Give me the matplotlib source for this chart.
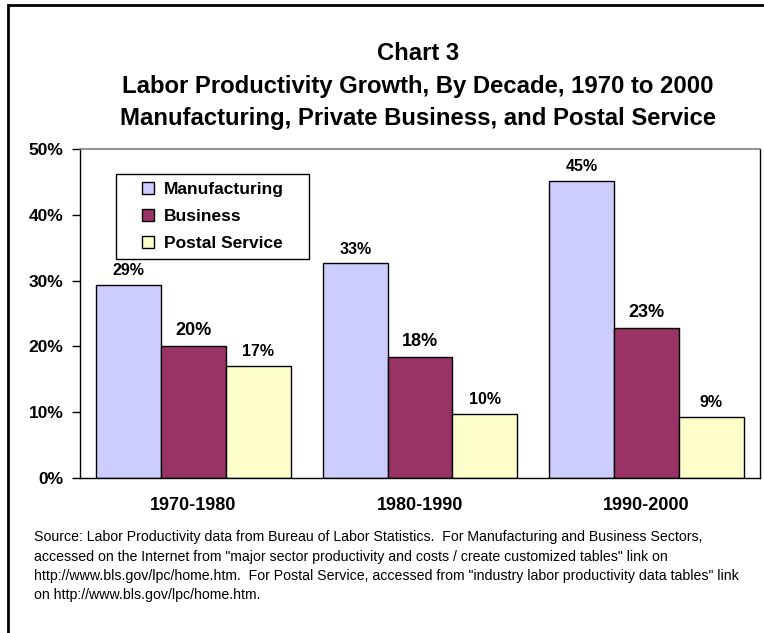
import numpy as np
import matplotlib
matplotlib.use("Agg")
import matplotlib.pyplot as plt
from matplotlib.patches import Rectangle
from matplotlib.lines import Line2D
from matplotlib.ticker import FuncFormatter

plt.rcParams['font.family'] = ['Liberation Sans', 'DejaVu Sans']

decades = ["1970-1980", "1980-1990", "1990-2000"]
series = ["Manufacturing", "Business", "Postal Service"]
manufacturing = [29.3, 32.6, 45.2]
business = [20.0, 18.4, 22.8]
postal = [17.0, 9.8, 9.3]
labels_manufacturing = ["29%", "33%", "45%"]
labels_business = ["20%", "18%", "23%"]
labels_postal = ["17%", "10%", "9%"]
y_ticks = [0, 10, 20, 30, 40, 50]

title_lines = ["Chart 3",
               "Labor Productivity Growth, By Decade, 1970 to 2000",
               "Manufacturing, Private Business, and Postal Service"]
source_lines = [
    "Source: Labor Productivity data from Bureau of Labor Statistics.  For Manufacturing and Business Sectors,",
    "accessed on the Internet from \"major sector productivity and costs / create customized tables\" link on",
    "http://www.bls.gov/lpc/home.htm.  For Postal Service, accessed from \"industry labor productivity data tables\" link",
    "on http://www.bls.gov/lpc/home.htm.",
]

colors = ["#CCCCFF", "#993366", "#FFFFCC"]
W, H = 764, 633

fig = plt.figure(figsize=(W / 100, H / 100), dpi=100)

# outer frame, cut off at the right and bottom like the source
fig.patches.append(Rectangle((8 / W, -0.2), 1.5, 1.2 - 5 / H, transform=fig.transFigure,
                             fill=False, edgecolor="black", linewidth=2, clip_on=False))

# plot area (pixels): x 80..760, y 149..478 from the top
ax = fig.add_axes([80 / W, 1 - 478 / H, (760 - 80) / W, (478 - 149) / H])

x = np.arange(len(decades))
bw = 0.286
all_vals = [manufacturing, business, postal]
all_labels = [labels_manufacturing, labels_business, labels_postal]
label_sizes = [11.5, 13, 11.5]
for i, (vals, labs) in enumerate(zip(all_vals, all_labels)):
    pos = x + (i - 1) * bw
    ax.bar(pos, vals, width=bw, color=colors[i], edgecolor="black", linewidth=1, zorder=2)
    for p, v, t in zip(pos, vals, labs):
        ax.annotate(t, (p, v), xytext=(0, 5), textcoords="offset points",
                    ha="center", va="bottom", fontsize=label_sizes[i], fontweight="bold")

ax.set_xlim(-0.5, 2.5)
ax.set_ylim(0, 50)
ax.set_yticks(y_ticks)
ax.yaxis.set_major_formatter(FuncFormatter(lambda v, _: f"{v:.0f}%"))
ax.set_xticks(x)
ax.set_xticklabels(decades)
ax.tick_params(axis="y", length=6, width=1, pad=6, labelsize=12.5)
ax.tick_params(axis="x", length=0, pad=14, labelsize=13)
for lab in ax.get_xticklabels() + ax.get_yticklabels():
    lab.set_fontweight("bold")

for s in ["left", "bottom", "right"]:
    ax.spines[s].set_color("black")
    ax.spines[s].set_linewidth(1)
ax.spines["top"].set_color("#808080")
ax.spines["top"].set_linewidth(1.2)

handles = [Line2D([], [], linestyle="none", marker="s", markersize=8,
                  markerfacecolor=c, markeredgecolor="black", markeredgewidth=1) for c in colors]
ax_w, ax_h = 760 - 80, 478 - 149
leg = ax.legend(handles, series, loc="upper left", mode="expand",
                bbox_to_anchor=((116 - 80) / ax_w, (478 - 258) / ax_h, (309 - 116) / ax_w, (258 - 174) / ax_h),
                borderaxespad=0, fancybox=False, framealpha=1, edgecolor="black",
                prop={"size": 12.5, "weight": "bold"}, handlelength=2.84, handletextpad=-0.53,
                labelspacing=0.69, borderpad=0.45)
leg.get_frame().set_linewidth(1)

for t, yc in zip(title_lines, [53, 86, 119]):
    fig.text(418 / W, 1 - yc / H, t, ha="center", va="center", fontsize=17.2, fontweight="bold")

for t, yc in zip(source_lines, [537, 556.5, 576, 595.5]):
    fig.text(34 / W, 1 - yc / H, t, ha="left", va="center", fontsize=10.2)

fig.savefig("out.png", dpi=100)
